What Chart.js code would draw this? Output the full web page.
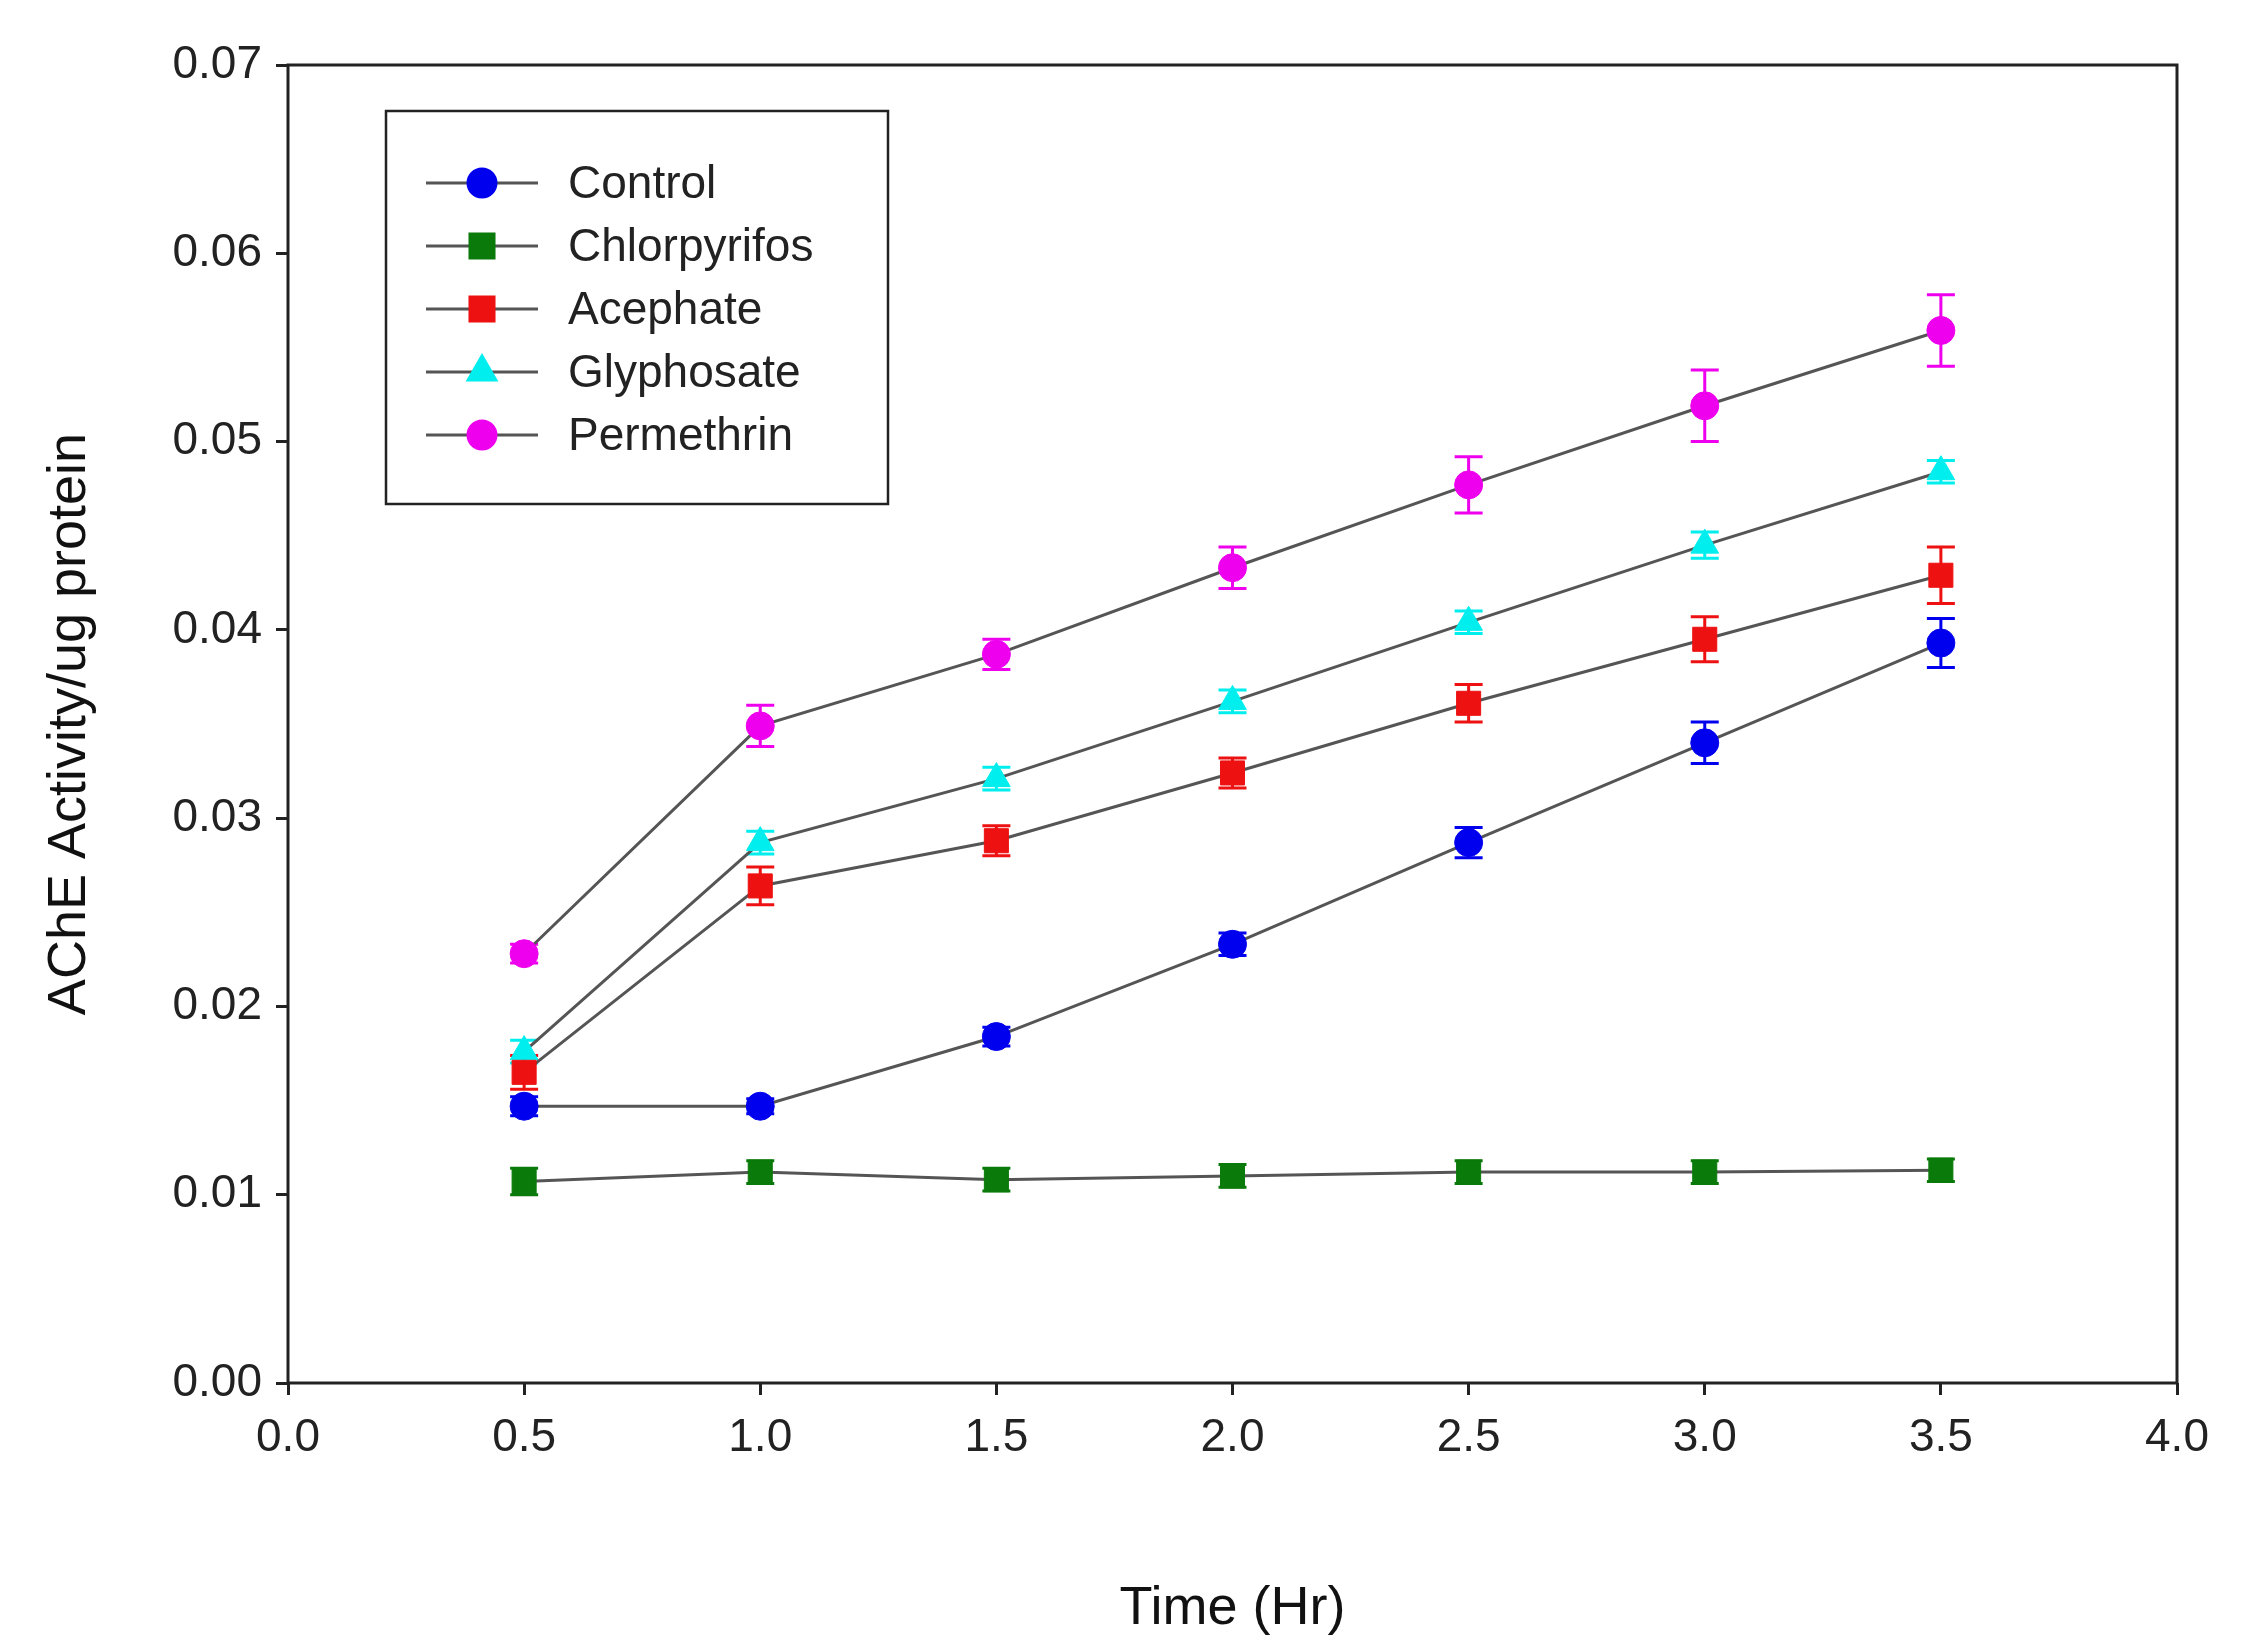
<!DOCTYPE html>
<html><head><meta charset="utf-8">
<script src="https://cdn.jsdelivr.net/npm/chart.js@4/dist/chart.umd.min.js"></script>
<style>html,body{margin:0;padding:0;background:#fff}#w{width:2248px;height:1646px}</style>
</head><body><div id="w"><canvas id="c"></canvas></div>
<script>
const times=[0.5,1.0,1.5,2.0,2.5,3.0,3.5];
const seriesNames=["Control","Chlorpyrifos","Acephate","Glyphosate","Permethrin"];
const control=[0.0147,0.0147,0.0184,0.0233,0.0287,0.0340,0.0393];
const controlErr=[0.0005,0.0004,0.0005,0.0006,0.0008,0.0011,0.0013];
const chlorpyrifos=[0.0107,0.0112,0.0108,0.0110,0.0112,0.0112,0.0113];
const chlorpyrifosErr=[0.0007,0.0006,0.0006,0.0006,0.0006,0.0006,0.0006];
const acephate=[0.0165,0.0264,0.0288,0.0324,0.0361,0.0395,0.0429];
const acephateErr=[0.0009,0.0010,0.0008,0.0008,0.0010,0.0012,0.0015];
const glyphosate=[0.0176,0.0287,0.0321,0.0362,0.0404,0.0445,0.0484];
const glyphosateErr=[0.0006,0.0006,0.0006,0.0006,0.0006,0.0007,0.0006];
const permethrin=[0.0228,0.0349,0.0387,0.0433,0.0477,0.0519,0.0559];
const permethrinErr=[0.0005,0.0011,0.0008,0.0011,0.0015,0.0019,0.0019];
const values=[control,chlorpyrifos,acephate,glyphosate,permethrin];
const errs=[controlErr,chlorpyrifosErr,acephateErr,glyphosateErr,permethrinErr];
const colors=["#0000ee","#0a7a0a","#ee1111","#00eeee","#ee00ee"];
const shapes=["circle","rect","rect","triangle","circle"];
const radii=[14,17,17,16,14];
const F="'Liberation Sans', Arial, sans-serif";

const datasets=values.map((v,i)=>({label:seriesNames[i],data:times.map((t,j)=>({x:t,y:v[j]})),
  err:errs[i],borderColor:"#555",borderWidth:3,backgroundColor:colors[i],pointBorderColor:colors[i],
  pointStyle:shapes[i],pointRadius:radii[i],pointBorderWidth:1}));

const plug={id:"extra",
 beforeDatasetsDraw(ch){const ctx=ch.ctx,x=ch.scales.x,y=ch.scales.y;ctx.save();ctx.lineWidth=3;
  ch.data.datasets.forEach((d,i)=>{ctx.strokeStyle=colors[i];d.data.forEach((p,j)=>{
   const px=x.getPixelForValue(p.x),t=y.getPixelForValue(p.y+d.err[j]),b=y.getPixelForValue(p.y-d.err[j]);
   ctx.beginPath();ctx.moveTo(px,t);ctx.lineTo(px,b);ctx.moveTo(px-14,t);ctx.lineTo(px+14,t);ctx.moveTo(px-14,b);ctx.lineTo(px+14,b);ctx.stroke();});});
  ctx.restore();},
 afterDraw(ch){const ctx=ch.ctx,a=ch.chartArea;ctx.save();ctx.strokeStyle="#222";ctx.lineWidth=3;
  ctx.strokeRect(a.left,a.top,a.right-a.left,a.bottom-a.top);
  const lx=386,ly=111,lw=502,lh=393;ctx.lineWidth=2.5;ctx.strokeStyle="#222";ctx.strokeRect(lx,ly,lw,lh);
  ctx.font="46px "+F;ctx.textBaseline="middle";
  seriesNames.forEach((n,i)=>{const yy=ly+72+i*63;ctx.strokeStyle="#555";ctx.lineWidth=3;
   ctx.beginPath();ctx.moveTo(lx+40,yy);ctx.lineTo(lx+152,yy);ctx.stroke();
   ctx.fillStyle=colors[i];ctx.strokeStyle=colors[i];
   Chart.helpers.drawPoint(ctx,{pointStyle:shapes[i],radius:radii[i],borderWidth:1},lx+96,yy);
   ctx.fillStyle="#222";ctx.fillText(n,lx+182,yy+2);});
  ctx.restore();}};

new Chart(document.getElementById("c"),{type:"line",data:{datasets},
 options:{responsive:true,maintainAspectRatio:false,animation:false,
  layout:{padding:{top:65,right:71,left:0,bottom:0}},
  plugins:{legend:{display:false},tooltip:{enabled:false}},
  scales:{
   x:{type:"linear",min:0,max:4,afterFit(s){s.height=263;},
    ticks:{stepSize:0.5,color:"#222",font:{size:46,family:F},padding:16,callback:v=>v.toFixed(1)},
    grid:{drawOnChartArea:false,tickLength:12,color:"#222",lineWidth:3},border:{display:false},
    title:{display:true,text:"Time (Hr)",color:"#111",font:{size:54,family:F},padding:{top:0}}},
   y:{min:0,max:0.07,afterFit(s){s.width=288;},
    ticks:{stepSize:0.01,color:"#222",font:{size:46,family:F},padding:14,callback:v=>v.toFixed(2)},
    grid:{drawOnChartArea:false,tickLength:12,color:"#222",lineWidth:3},border:{display:false},
    title:{display:true,text:"AChE Activity/ug protein",color:"#111",font:{size:54,family:F},padding:{top:38,bottom:0}}}}},
 plugins:[plug]});
</script></body></html>
